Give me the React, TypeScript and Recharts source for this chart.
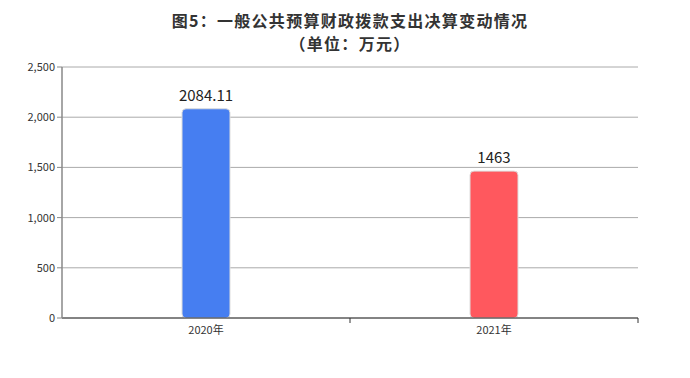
import { Bar, BarChart, CartesianGrid, Cell, LabelList, XAxis, YAxis } from 'recharts';

const years = ['2020年', '2021年'];
const amounts = [2084.11, 1463];
const colors = ['#467ef1', '#ff585e'];
const yTicks = [0, 500, 1000, 1500, 2000, 2500];
const titleLines = ['图5：一般公共预算财政拨款支出决算变动情况', '（单位：万元）'];

const data = years.map((year, i) => ({ year, amount: amounts[i] }));

const fmt = (v: number) => v.toLocaleString('en-US');

// category label plus a tick mark on the right edge of each band
function YearTick(props: any) {
  const { x, y, payload } = props;
  const half = payload?.offset ?? 0;
  return (
    <g>
      <line x1={x + half} x2={x + half} y1={y} y2={y + 5} stroke="#333" />
      <text x={x} y={y} dy={16} textAnchor="middle" fontSize={11} fill="#333">
        {payload.value}
      </text>
    </g>
  );
}

export default function App() {
  return (
    <div
      style={{
        position: 'absolute',
        top: 0,
        left: 0,
        width: 690,
        height: 378,
        background: '#fff',
        fontFamily: '"Noto Sans CJK SC", "Noto Sans", sans-serif',
      }}
    >
      {titleLines.map((line, i) => (
        <div
          key={line}
          style={{
            position: 'absolute',
            top: 9 + i * 23,
            left: 0,
            width: 700,
            textAlign: 'center',
            fontSize: 16,
            letterSpacing: 1.3,
            fontWeight: 700,
            lineHeight: '23px',
            color: '#333',
            whiteSpace: 'nowrap',
          }}
        >
          {line}
        </div>
      ))}
      <BarChart
        width={690}
        height={378}
        data={data}
        margin={{ top: 67, right: 52, bottom: 40, left: 0 }}
        style={{ position: 'absolute', top: 0, left: 0 }}
      >
        <CartesianGrid vertical={false} stroke="#aaa" />
        <XAxis
          dataKey="year"
          tickLine={false}
          tickSize={0}
          tickMargin={0}
          axisLine={{ stroke: '#333' }}
          tick={<YearTick />}
          height={20}
        />
        <YAxis
          width={62}
          domain={[0, 2500]}
          ticks={yTicks}
          tickFormatter={fmt}
          tick={{ fontSize: 11, fill: '#333' }}
          axisLine={{ stroke: '#888', strokeWidth: 1.5 }}
          tickLine={{ stroke: '#888' }}
          tickSize={5}
          tickMargin={2}
        />
        <Bar
          dataKey="amount"
          barSize={48}
          radius={4}
          stroke="#ddd"
          strokeWidth={1}
          isAnimationActive={false}
        >
          {data.map((d, i) => (
            <Cell key={d.year} fill={colors[i]} />
          ))}
          <LabelList dataKey="amount" position="top" offset={8} fill="#222" fontSize={15} />
        </Bar>
      </BarChart>
    </div>
  );
}
